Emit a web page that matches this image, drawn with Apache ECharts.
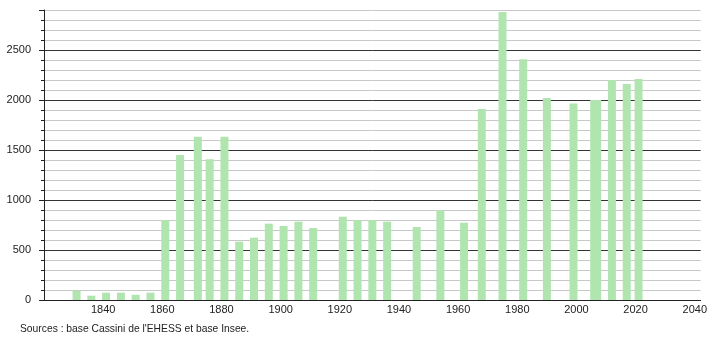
<!DOCTYPE html>
<html>
<head>
<meta charset="utf-8">
<script src="https://cdn.jsdelivr.net/npm/echarts@6/dist/echarts.min.js"></script>
<style>
html,body{margin:0;padding:0;background:#fff;}
#chart{width:710px;height:340px;}
</style>
</head>
<body>
<div id="chart"></div>
<script>
var years = [1831,1836,1841,1846,1851,1856,1861,1866,1872,1876,1881,1886,1891,1896,1901,1906,1911,1921,1926,1931,1936,1946,1954,1962,1968,1975,1982,1990,1999,2006,2007,2012,2017,2021];
var population = [93,43,73,73,53,73,800,1450,1633,1408,1633,583,623,763,740,783,720,833,800,800,783,730,897,773,1910,2880,2407,2020,1965,2000,2000,2200,2160,2210];
var sourceText = "Sources : base Cassini de l'EHESS et base Insee.";

var chart = echarts.init(document.getElementById('chart'));
var data = years.map(function(y, i){ return [y, population[i]]; });
var font = 'Liberation Sans, Arial, sans-serif';
var gridColors = ['#333333','#c8c8c8','#c8c8c8','#c8c8c8','#c8c8c8'];

chart.setOption({
  animation: false,
  grid: {left: 44, right: 9, top: 10, bottom: 40, containLabel: false},
  xAxis: {
    type: 'value', min: 1820, max: 2042, interval: 20,
    axisLine: {show: true, onZero: false, lineStyle: {color: '#222', width: 1}},
    axisTick: {show: false},
    splitLine: {show: false},
    axisLabel: {showMinLabel: false, showMaxLabel: false, color: '#222', fontFamily: font, fontSize: 11, margin: 4,
      formatter: function(v){ return String(v); }}
  },
  yAxis: [{
    type: 'value', min: 0, max: 2900, interval: 100,
    axisLine: {show: true, lineStyle: {color: '#222', width: 1}},
    axisTick: {show: true, length: 3, lineStyle: {color: '#222'}},
    splitLine: {show: true, lineStyle: {color: gridColors, width: 1}},
    axisLabel: {color: '#222', fontFamily: font, fontSize: 11, margin: 13,
      formatter: function(v){ return v % 500 === 0 ? String(v) : ''; }}
  },{
    type: 'value', min: 0, max: 2900, interval: 500, position: 'left',
    axisLine: {show: false},
    axisTick: {show: true, length: 5, lineStyle: {color: '#222'}},
    splitLine: {show: false},
    axisLabel: {show: false}
  }],
  graphic: [{
    type: 'text', left: 20, top: 324,
    style: {text: sourceText, fill: '#222', font: '10.3px ' + font}
  }],
  series: [{
    type: 'bar', yAxisIndex: 0, data: data, barWidth: 8, barGap: '-100%',
    itemStyle: {color: '#b0e5b0'}
  }]
});
</script>
</body>
</html>
